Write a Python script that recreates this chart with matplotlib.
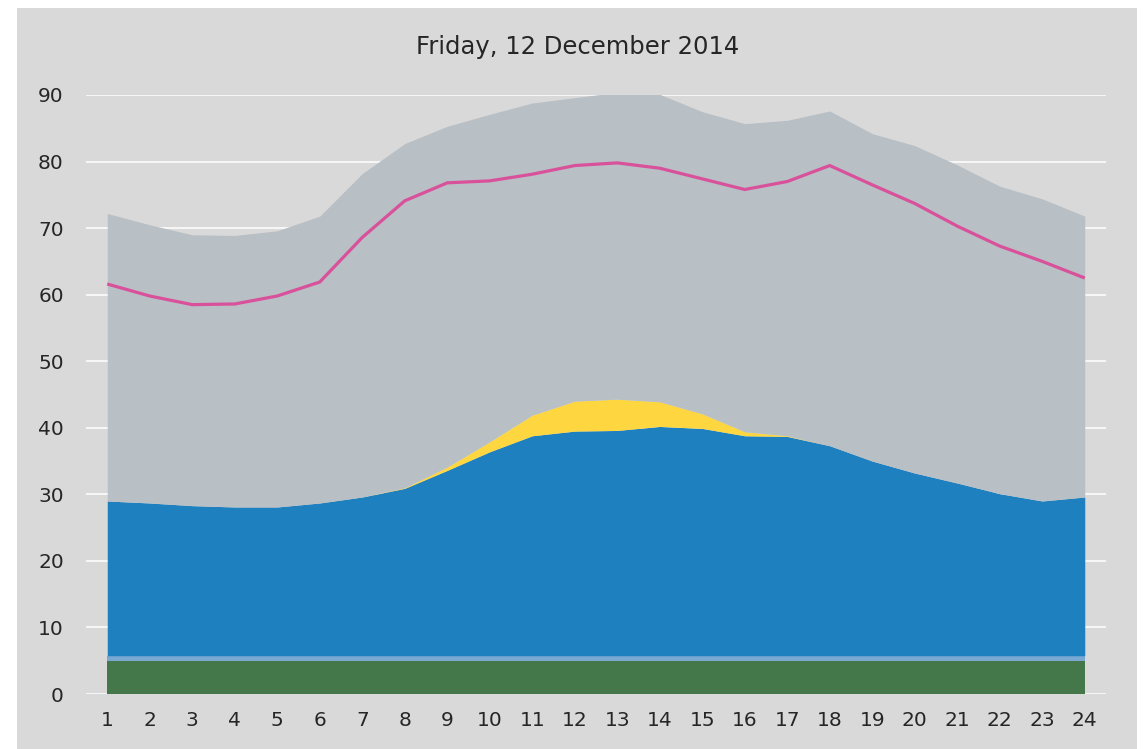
import matplotlib
matplotlib.use("Agg")
import matplotlib.pyplot as plt
from matplotlib.patches import Rectangle

# ---- data ----
hours = list(range(1, 25))
hour_labels = [str(h) for h in hours]
green_top = [5.0] * 24
lightblue_top = [5.75] * 24
blue_top = [29.0, 28.7, 28.3, 28.1, 28.1, 28.7, 29.6, 30.9, 33.6, 36.4, 38.8, 39.5,
            39.6, 40.2, 39.9, 38.8, 38.7, 37.3, 35.0, 33.2, 31.7, 30.1, 29.0, 29.6]
solar = [0, 0, 0, 0, 0, 0, 0, 0.1, 0.5, 1.5, 3.1, 4.5,
         4.7, 3.7, 2.2, 0.6, 0.1, 0, 0, 0, 0, 0, 0, 0]
total_top = [72.2, 70.5, 69.0, 68.9, 69.6, 71.8, 78.2, 82.7, 85.3, 87.1, 88.8, 89.6,
             90.4, 90.1, 87.5, 85.7, 86.2, 87.6, 84.2, 82.4, 79.5, 76.3, 74.4, 71.8]
pink_line = [61.6, 59.8, 58.5, 58.6, 59.8, 61.9, 68.6, 74.1, 76.8, 77.1, 78.1, 79.4,
             79.8, 79.0, 77.4, 75.8, 77.0, 79.4, 76.5, 73.7, 70.3, 67.3, 65.0, 62.5]
yticks = [0, 10, 20, 30, 40, 50, 60, 70, 80, 90]
title = "Friday, 12 December 2014"

yellow_top = [b + s for b, s in zip(blue_top, solar)]

BG = "#d9d9d9"
TXT = "#262626"
W, H = 1145, 749
fig = plt.figure(figsize=(W / 100, H / 100), dpi=100)
fig.patch.set_facecolor("white")
bg = Rectangle((17 / W, 0), (1137 - 17) / W, (749 - 8) / H,
               transform=fig.transFigure, facecolor=BG,
               edgecolor="none", zorder=-10)
fig.patches.append(bg)

ax = fig.add_axes([86 / W, (H - 694) / H, 1020 / W, 599 / H])
ax.set_zorder(5)
ax.set_facecolor(BG)
ax.patch.set_alpha(0)

ax.fill_between(hours, 0, green_top, color="#44784a", lw=0, zorder=2)
ax.fill_between(hours, green_top, lightblue_top, color="#79a9d3", lw=0, zorder=2)
ax.fill_between(hours, lightblue_top, blue_top, color="#1f80c0", lw=0, zorder=2)
ax.fill_between(hours, blue_top, yellow_top, color="#fed740", lw=0, zorder=2)
ax.fill_between(hours, yellow_top, total_top, color="#b8bfc5", lw=0, zorder=2)
ax.plot(hours, pink_line, color="#d9519a", lw=2.3, zorder=3,
        solid_joinstyle="round", solid_capstyle="butt")

ax.set_xlim(0.5, 24.5)
ax.set_ylim(0, 90)
ax.set_yticks(yticks)
ax.set_xticks(hours)
ax.set_xticklabels(hour_labels)
ax.grid(axis="y", color="white", lw=1.1, zorder=1)
ax.set_axisbelow(True)
for s in ax.spines.values():
    s.set_visible(False)
ax.tick_params(axis="both", length=0, labelsize=14.5, labelcolor=TXT)
ax.tick_params(axis="y", pad=16)
ax.tick_params(axis="x", pad=12)

fig.text(577.5 / W, 1 - 54 / H, title, ha="center", va="baseline",
         fontsize=17.5, color=TXT, zorder=6)

fig.savefig("out.png", dpi=100, facecolor="white")
